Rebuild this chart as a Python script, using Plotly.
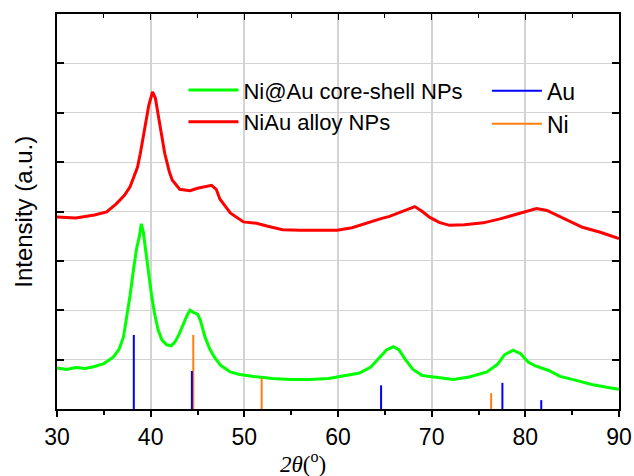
import plotly.graph_objects as go

# Ni@Au core-shell NPs (green)
cs_x = [30, 31, 32, 33, 34, 35, 36, 36.6, 37.1, 37.5, 37.8, 38.2, 38.5, 38.8, 39.0, 39.2, 39.5, 39.8,
        40.1, 40.4, 40.8, 41.2, 41.7, 42.2, 42.6, 43.0, 43.5, 43.9, 44.2, 44.6, 45.0, 45.3, 45.8, 46.3,
        46.8, 47.5, 48.5, 49.5, 51, 53, 55, 57, 59, 61, 62.3, 63.5, 64.5, 65.2, 65.9, 66.5, 67.2, 68,
        69, 70.5, 72.3, 74, 75.9, 77, 77.8, 78.7, 79.5, 80.3, 81, 82.5, 83.7, 85, 87.2, 89, 90]
cs_y = [0.83, 0.80, 0.84, 0.82, 0.86, 0.92, 1.05, 1.2, 1.46, 1.9, 2.3, 2.87, 3.25, 3.5, 3.75, 3.6, 3.15, 2.68,
        2.3, 1.95, 1.6, 1.4, 1.3, 1.28, 1.36, 1.5, 1.74, 1.9, 2.0, 1.95, 1.92, 1.8, 1.46, 1.22,
        1.05, 0.88, 0.75, 0.7, 0.66, 0.62, 0.6, 0.6, 0.62, 0.68, 0.73, 0.85, 1.05, 1.2, 1.26, 1.2, 1.0, 0.8,
        0.68, 0.64, 0.6, 0.65, 0.75, 0.9, 1.1, 1.19, 1.12, 0.95, 0.88, 0.78, 0.66, 0.6, 0.49, 0.43, 0.4]

# NiAu alloy NPs (red)
al_x = [30, 31, 32, 33, 34, 35.3, 36.3, 37.2, 37.8, 38.2, 38.6, 38.9, 39.2, 39.5, 39.8, 40.2, 40.5, 40.9,
        41.2, 41.5, 42.0, 42.3, 43.1, 44.2, 45.0, 45.6, 46.5, 47.0, 47.4, 48.0, 48.5, 49.9, 51.3, 52.5,
        54.1, 56, 58, 59.9, 61.5, 63.1, 64.5, 65.5, 66.5, 67.5, 68.2, 69.0, 69.8, 70.8, 71.9, 73.5, 75.5,
        77.3, 79.1, 80.3, 81.2, 82.3, 83.4, 84.8, 86.1, 88, 89, 90]
al_y = [3.89, 3.88, 3.87, 3.9, 3.93, 3.99, 4.15, 4.33, 4.5, 4.7, 4.9, 5.18, 5.5, 5.85, 6.15, 6.42, 6.3, 5.85,
        5.5, 5.18, 4.8, 4.64, 4.45, 4.42, 4.47, 4.5, 4.53, 4.45, 4.25, 4.1, 3.97, 3.79, 3.76, 3.7,
        3.63, 3.62, 3.62, 3.62, 3.67, 3.77, 3.85, 3.9, 3.98, 4.05, 4.1, 4.0, 3.88, 3.78, 3.72, 3.73, 3.77,
        3.85, 3.94, 4.0, 4.06, 4.02, 3.92, 3.8, 3.68, 3.58, 3.52, 3.45]

# Reference patterns
au_pos = [38.2, 44.4, 64.6, 77.55, 81.7]
au_int = [1.5, 0.77, 0.48, 0.53, 0.18]
ni_pos = [44.55, 51.85, 76.35]
ni_int = [1.5, 0.63, 0.32]

x_ticks = [30, 40, 50, 60, 70, 80, 90]


def sticks(pos, inten):
    xs, ys = [], []
    for p, h in zip(pos, inten):
        xs += [p, p, None]
        ys += [0, h, None]
    return xs, ys


fig = go.Figure()
fig.add_trace(go.Scatter(x=cs_x, y=cs_y, mode="lines", name="Ni@Au core-shell NPs",
                         line=dict(color="#00ff00", width=3), legend="legend"))
fig.add_trace(go.Scatter(x=al_x, y=al_y, mode="lines", name="NiAu alloy NPs",
                         line=dict(color="#ff0000", width=3), legend="legend"))
nx, ny = sticks(ni_pos, ni_int)
fig.add_trace(go.Scatter(x=nx, y=ny, mode="lines", name="Ni", legendrank=2,
                         line=dict(color="#ff7f0e", width=2), legend="legend2"))
ax, ay = sticks(au_pos, au_int)
fig.add_trace(go.Scatter(x=ax, y=ay, mode="lines", name="Au", legendrank=1,
                         line=dict(color="#0000ff", width=2), legend="legend2"))
fig.add_trace(go.Scatter(x=[None], y=[None], xaxis="x2", showlegend=False))

font_sans = "Liberation Sans, Arial, sans-serif"

fig.update_layout(
    width=634, height=476,
    margin=dict(l=57, r=15, t=14, b=67),
    paper_bgcolor="white", plot_bgcolor="white",
    font=dict(family=font_sans, color="black"),
    xaxis=dict(range=[30, 90], tickvals=x_ticks, ticktext=[str(v) for v in x_ticks],
               ticks="outside", ticklen=6, tickwidth=1.5, tickcolor="black", automargin=False,
               minor=dict(dtick=5, ticks="outside", ticklen=4, tickcolor="black", showgrid=False),
               showline=True, linecolor="black", linewidth=2, mirror=True,
               showgrid=True, gridcolor="#d3d3d3", gridwidth=1.5, zeroline=False,
               tickfont=dict(size=23, family=font_sans)),
    xaxis2=dict(range=[30, 90], overlaying="x", side="top", anchor="y", dtick=10, tick0=30,
                ticks="inside", ticklen=6, tickcolor="black", showticklabels=False, automargin=False,
                minor=dict(dtick=5, ticks="inside", ticklen=4, tickcolor="black"),
                showgrid=False, zeroline=False),
    yaxis=dict(range=[0, 8], dtick=1, tick0=0, showticklabels=False, automargin=False,
               ticks="inside", ticklen=7, tickwidth=1.5, tickcolor="black",
               showline=True, linecolor="black", linewidth=2, mirror="ticks",
               showgrid=True, gridcolor="#d3d3d3", gridwidth=1.2, zeroline=False),
    legend=dict(x=0.225, y=0.86, xanchor="left", yanchor="top", bgcolor="rgba(0,0,0,0)",
                font=dict(size=22, family=font_sans), tracegroupgap=0, itemwidth=50),
    legend2=dict(x=0.765, y=0.86, xanchor="left", yanchor="top", bgcolor="rgba(0,0,0,0)",
                 font=dict(size=23, family=font_sans), tracegroupgap=0, itemwidth=50),
    showlegend=True,
    annotations=[
        dict(text="Intensity (a.u.)", xref="paper", yref="paper", x=-0.06, y=0.5,
             xanchor="center", yanchor="middle", textangle=-90, showarrow=False,
             font=dict(size=24, family=font_sans)),
        dict(text="<i>2θ</i>(<sup>o</sup>)", xref="paper", yref="paper", x=0.438, y=-0.136,
             xanchor="center", yanchor="middle", showarrow=False,
             font=dict(family="Liberation Serif, Times New Roman, serif", size=23)),
    ],
)

fig.write_html("out.html", config={"displayModeBar": False},
               post_script="document.body.style.margin='0';document.body.style.padding='0';"
                           "document.documentElement.style.overflow='hidden';")
